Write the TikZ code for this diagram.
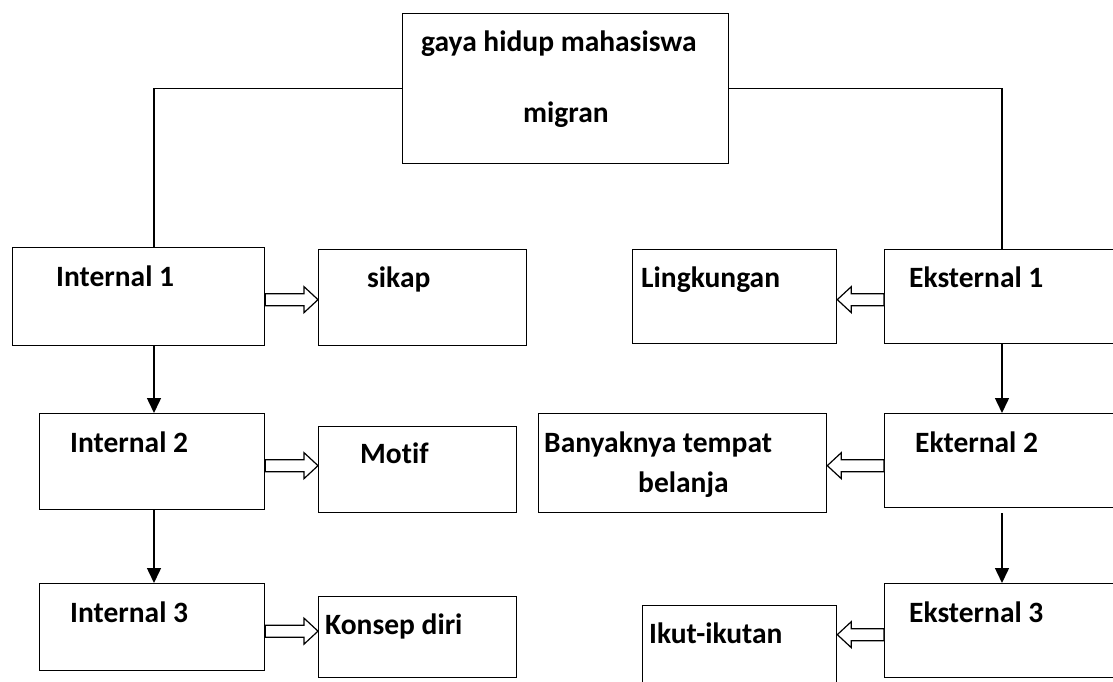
\documentclass[tikz,border=0pt]{standalone}
\usepackage{fontspec}
\setmainfont{Carlito}[Ligatures=NoCommon]
\usetikzlibrary{arrows.meta,calc}
\tikzset{
  box/.style={draw, line width=1.3pt, anchor=north west, inner sep=0pt},
  txt/.style={anchor=base west, inner sep=0pt, font=\fontsize{29.5}{34}\selectfont\bfseries},
  tree/.style={line width=1.3pt},
  down/.style={line width=1.5pt, -{Triangle[width=14pt,length=15pt]}},
  hollow/.style={line width=1.2pt, draw, fill=white, line join=miter,
    to path={let \p1=(\tikztostart), \p2=(\tikztotarget), \n1={sign(\x2-\x1)} in
      (\x1,\y1+6pt) -- (\x2-\n1*14pt,\y1+6pt) -- (\x2-\n1*14pt,\y1+13pt) -- (\x2,\y1)
      -- (\x2-\n1*14pt,\y1-13pt) -- (\x2-\n1*14pt,\y1-6pt) -- (\x1,\y1-6pt) -- cycle}}
}
\begin{document}
\begin{tikzpicture}[x=1pt,y=-1pt]
\useasboundingbox (0,0) rectangle (1113,682);
\clip (0,0) rectangle (1113,682);
% boxes
\node[box, minimum width=326pt, minimum height=150pt] (top) at (402,13) {};
\node[box, minimum width=252pt, minimum height=98pt] (i1) at (12,247) {};
\node[box, minimum width=208pt, minimum height=96pt] (sik) at (318,249) {};
\node[box, minimum width=225pt, minimum height=96pt] (i2) at (39,413) {};
\node[box, minimum width=198pt, minimum height=86pt] (mot) at (318,426) {};
\node[box, minimum width=225pt, minimum height=87pt] (i3) at (39,583) {};
\node[box, minimum width=198pt, minimum height=81pt] (kon) at (318,596) {};
\node[box, minimum width=204pt, minimum height=94pt] (lin) at (632,249) {};
\node[box, minimum width=250pt, minimum height=94pt] (e1) at (884,249) {};
\node[box, minimum width=288pt, minimum height=99pt] (ban) at (538,413) {};
\node[box, minimum width=250pt, minimum height=94pt] (e2) at (884,413) {};
\node[box, minimum width=194pt, minimum height=100pt] (ikut) at (642,605) {};
\node[box, minimum width=250pt, minimum height=94pt] (e3) at (884,583) {};
% texts
\node[txt] (t0a) at (421,52) {gaya hidup mahasiswa};
\node[txt] (t0b) at (523,123) {migran};
\node[txt] (ti1) at (56,286) {Internal 1};
\node[txt] (tsik) at (367,287) {sikap};
\node[txt] (ti2) at (70,452) {Internal 2};
\node[txt] (tmot) at (360,463) {Motif};
\node[txt] (ti3) at (70,622) {Internal 3};
\node[txt] (tkon) at (325,634) {Konsep diri};
\node[txt] (tlin) at (641,287) {Lingkungan};
\node[txt] (te1) at (909,287) {Eksternal 1};
\node[txt] (tban) at (544,452) {Banyaknya tempat};
\node[txt] (tbel) at (638,492) {belanja};
\node[txt] (te2) at (915,452) {Ekternal 2};
\node[txt] (tikut) at (649,643) {Ikut-ikutan};
\node[txt] (te3) at (909,622) {Eksternal 3};
% tree connectors
\coordinate (l1) at (154,247);
\coordinate (r1) at (1002,249);
\draw[tree] (top.west) -| (l1);
\draw[tree] (top.east) -| (r1);
\draw[down] (i1.south -| l1) -- (i2.north -| l1);
\draw[down] (i2.south -| l1) -- (i3.north -| l1);
\draw[down] (e1.south -| r1) -- (e2.north -| r1);
\draw[down] ([yshift=-5pt]e2.south -| r1) -- (e3.north -| r1);
% hollow arrows
\path[hollow] ([yshift=-3pt]i1.east) to (sik.west);
\path[hollow] ([yshift=-4pt]i2.east) to (mot.west);
\path[hollow] ([yshift=-4pt]i3.east) to (kon.west);
\path[hollow] ([yshift=-3pt]e1.west) to (lin.east);
\path[hollow] ([yshift=-5pt]e2.west) to (ban.east);
\path[hollow] ([yshift=-4pt]e3.west) to (ikut.east);
\end{tikzpicture}
\end{document}
